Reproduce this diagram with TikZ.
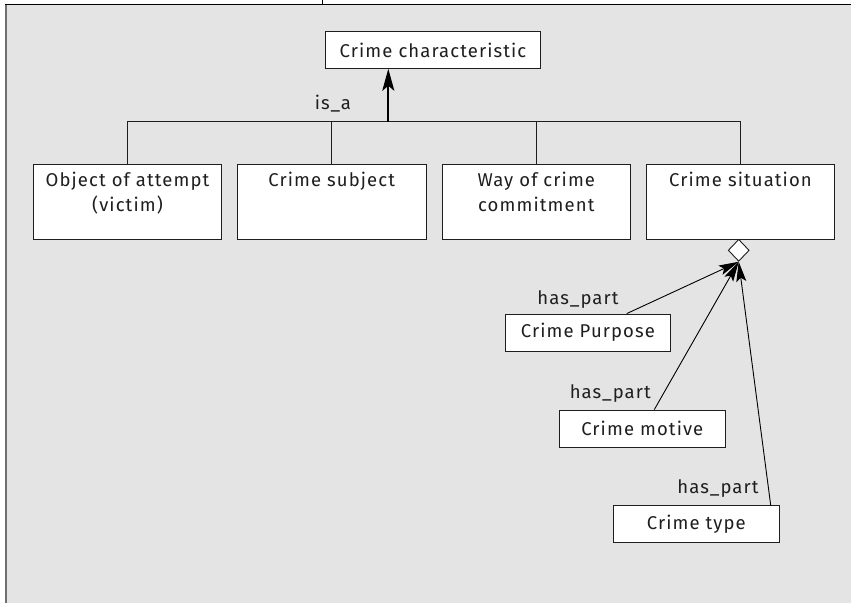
\documentclass[tikz,border=0pt]{standalone}
\usepackage{fontspec}
\setmainfont{Fira Sans}[LetterSpace=6]
\usetikzlibrary{arrows.meta,shapes.geometric}
\definecolor{bggray}{HTML}{E4E4E4}
\definecolor{ink}{HTML}{1E1E1E}
\definecolor{framegray}{HTML}{707070}
\begin{document}
\begin{tikzpicture}[x=1pt,y=-1pt,
  font=\fontsize{18.5}{25}\selectfont, text=ink,
  box/.style={draw=ink, line width=0.9pt, fill=white, rectangle, inner sep=0pt},
  conn/.style={draw=ink, line width=0.9pt},
  isarrow/.style={draw=black, line width=2.2pt, -{Stealth[length=22pt,width=12pt,inset=5pt]}},
  partarrow/.style={draw=black, line width=0.9pt, -{Stealth[length=20pt,width=10pt,inset=4pt]}},
  lbl/.style={inner sep=0pt}]
\useasboundingbox (0,0) rectangle (851,603);
% frame
\fill[bggray] (6,4.5) rectangle (851,603);
\draw[framegray, line width=2pt] (6,4.5) -- (6,603);
\draw[black, line width=1.5pt] (5,4.5) -- (851,4.5);
\draw[black, line width=1pt] (322.7,0) -- (322.7,4.5);

% top node
\node[box, minimum width=214.7pt, minimum height=36.6pt] (cc) at (433,50) {Crime characteristic};

% bottom row
\newcommand{\toptext}[1]{\parbox[c][75pt][t]{188pt}{\centering\vspace*{5pt}\strut #1}}
\node[box, minimum width=188.4pt, minimum height=75pt] (obj) at (127.5,201.8) {\toptext{Object of attempt\\\strut(victim)}};
\node[box, minimum width=188.7pt, minimum height=75pt] (subj) at (331.7,201.8) {\toptext{Crime subject}};
\node[box, minimum width=188.7pt, minimum height=75pt] (way) at (536.3,201.8) {\toptext{Way of crime\\\strut commitment}};
\node[box, minimum width=188.4pt, minimum height=75pt] (sit) at (740.5,201.8) {\toptext{Crime situation}};

% tree connectors
\coordinate (bar) at (388.3,121.5);
\draw[conn] (obj.north) -- (obj.north |- bar) -- (sit.north |- bar) -- (sit.north);
\draw[conn] (subj.north) -- (subj.north |- bar);
\draw[conn] (way.north) -- (way.north |- bar);
\draw[isarrow] (bar) -- (bar |- cc.south);
\node[lbl] (isa) at (333,104) {is\_a};

% aggregation diamond
\node[draw=ink, line width=0.9pt, fill=white, diamond, minimum width=21pt, minimum height=22pt, inner sep=0pt] (dia) at (738.7,250.3) {};

% parts
\node[box, minimum width=165.7pt, minimum height=37.3pt] (pur) at (587.9,332.7) {Crime Purpose};
\node[box, minimum width=166pt, minimum height=37pt] (mot) at (642.3,428.5) {Crime motive};
\node[box, minimum width=166pt, minimum height=36.6pt] (typ) at (696.3,524) {Crime type};

\draw[partarrow] ([xshift=38.8pt]pur.north) -- (dia.south);
\draw[partarrow] ([xshift=12pt]mot.north) -- (dia.south);
\draw[partarrow] ([xshift=74.4pt]typ.north) -- (dia.south);

\node[lbl] (hp1) at (578,300) {has\_part};
\node[lbl] (hp2) at (610.3,393.3) {has\_part};
\node[lbl] (hp3) at (718,488.3) {has\_part};
\end{tikzpicture}
\end{document}
